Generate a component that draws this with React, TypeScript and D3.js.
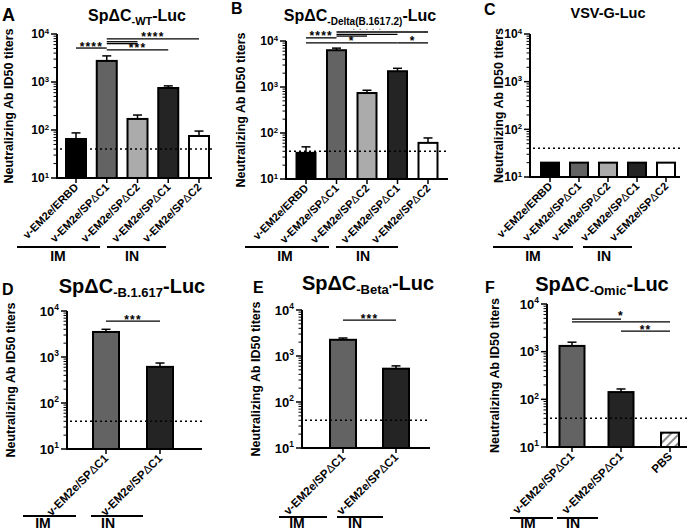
import React from "react";
import * as d3 from "d3";

const FONT = "'Liberation Sans', Arial, Helvetica, sans-serif";

// ---------- data ----------
const LOD = 40;
const yTickValues = [10, 100, 1000, 10000];
const catsFive = ["v-EM2e/ERBD", "v-EM2e/SPΔC1", "v-EM2e/SPΔC2", "v-EM2e/SPΔC1", "v-EM2e/SPΔC2"];
const catsTwo = ["v-EM2e/SPΔC1", "v-EM2e/SPΔC1"];
const catsThree = ["v-EM2e/SPΔC1", "v-EM2e/SPΔC1", "PBS"];
const routeGroups = ["IM", "IN"];

const wtMeans = [65, 2750, 170, 750, 75];
const wtUpper = [87, 3500, 205, 830, 95];
const deltaMeans = [37, 6300, 740, 2200, 61];
const deltaUpper = [50, 7000, 850, 2550, 78];
const vsvMeans = [20, 20, 20, 20, 20];
const vsvUpper = [null, null, null, null, null];
const b1617Means = [3500, 610];
const b1617Upper = [4000, 740];
const betaMeans = [2250, 530];
const betaUpper = [2460, 610];
const omicMeans = [1320, 142, 20];
const omicUpper = [1580, 165, null];

const fillsFive = ["#000000", "#636363", "#ababab", "#242424", "#ffffff"];
const fillsTwo = ["#636363", "#242424"];
const fillsThree = ["#636363", "#242424", "url(#hatch)"];

type Bracket = { a: number; b: number; v: number; label?: string; dy?: number; faint?: boolean };

const wtBrackets: Bracket[] = [
  { a: 1, b: 4, v: 7900, label: "****" },
  { a: 1, b: 2, v: 6900 },
  { a: 1, b: 2, v: 6300 },
  { a: 0, b: 1, v: 5100, label: "****" },
  { a: 1, b: 3, v: 4650, label: "***" },
];
const deltaBrackets: Bracket[] = [
  { a: 1, b: 4, v: 15700 },
  { a: 1, b: 3, v: 14000, faint: true },
  { a: 1, b: 2, v: 12800 },
  { a: 0, b: 1, v: 11700, label: "****" },
  { a: 0, b: 3, v: 9100, label: "*" },
  { a: 3, b: 4, v: 9100, label: "*" },
];
const b1617Brackets: Bracket[] = [{ a: 0, b: 1, v: 6000, label: "***" }];
const betaBrackets: Bracket[] = [{ a: 0, b: 1, v: 6000, label: "***" }];
const omicBrackets: Bracket[] = [
  { a: 0, b: 1, v: 4800 },
  { a: 0, b: 2, v: 4200, label: "*", dy: -4 },
  { a: 1, b: 2, v: 2700, label: "**" },
];

// ---------- layout ----------
interface Group { x0: number; x1: number; tx: number }
interface PanelCfg {
  letter: string; letterX: number; letterY: number; letterSize: number;
  pre: string; sub?: string; post?: string;
  titleX: number; titleY: number; titleSize: number; subSize: number;
  axisX: number; yTop: number; yBot: number; xEnd: number; c0: number; c1: number;
  bw: number[];
  cats: string[]; means: number[]; upper: (number | null)[]; fills: string[];
  brackets: Bracket[];
  yTitleX: number; tickSize: number; labelSize: number;
  groups: Group[]; groupY: number; groupTextY: number;
}

const panels: PanelCfg[] = [
  {
    letter: "A", letterX: 2, letterY: 21, letterSize: 18,
    pre: "SpΔC", sub: "-WT", post: "-Luc", titleX: 137, titleY: 21, titleSize: 16, subSize: 11,
    axisX: 57, yTop: 34, yBot: 178, xEnd: 212, c0: 76, c1: 199, bw: [20, 20, 20, 20, 20],
    cats: catsFive, means: wtMeans, upper: wtUpper, fills: fillsFive, brackets: wtBrackets,
    yTitleX: 13, tickSize: 12, labelSize: 11,
    groups: [{ x0: 17, x1: 100, tx: 58 }, { x0: 107, x1: 166, tx: 132 }], groupY: 247, groupTextY: 261,
  },
  {
    letter: "B", letterX: 231, letterY: 14, letterSize: 16,
    pre: "SpΔC", sub: "-Delta(B.1617.2)", post: "-Luc", titleX: 360, titleY: 21, titleSize: 16, subSize: 10,
    axisX: 286, yTop: 41, yBot: 179, xEnd: 448, c0: 306, c1: 428, bw: [19, 19, 19, 19, 19],
    cats: catsFive, means: deltaMeans, upper: deltaUpper, fills: fillsFive, brackets: deltaBrackets,
    yTitleX: 245, tickSize: 12, labelSize: 11,
    groups: [{ x0: 245, x1: 329, tx: 285 }, { x0: 336, x1: 398, tx: 363 }], groupY: 247, groupTextY: 261,
  },
  {
    letter: "C", letterX: 484, letterY: 15, letterSize: 16,
    pre: "VSV-G-Luc", titleX: 608, titleY: 18, titleSize: 14.5, subSize: 10,
    axisX: 530, yTop: 34, yBot: 177, xEnd: 680, c0: 550, c1: 666, bw: [18, 18, 18, 18, 18],
    cats: catsFive, means: vsvMeans, upper: vsvUpper, fills: fillsFive, brackets: [],
    yTitleX: 503, tickSize: 12, labelSize: 11,
    groups: [{ x0: 493, x1: 573, tx: 533 }, { x0: 583, x1: 632, tx: 604 }], groupY: 247, groupTextY: 261,
  },
  {
    letter: "D", letterX: 2, letterY: 295, letterSize: 16,
    pre: "SpΔC", sub: "-B.1.617", post: "-Luc", titleX: 132, titleY: 293, titleSize: 20, subSize: 13,
    axisX: 67, yTop: 311, yBot: 449, xEnd: 202, c0: 106, c1: 160, bw: [26, 26],
    cats: catsTwo, means: b1617Means, upper: b1617Upper, fills: fillsTwo, brackets: b1617Brackets,
    yTitleX: 15, tickSize: 13, labelSize: 11.5,
    groups: [{ x0: 23, x1: 76, tx: 43 }, { x0: 91, x1: 143, tx: 108 }], groupY: 516, groupTextY: 528,
  },
  {
    letter: "E", letterX: 253, letterY: 293, letterSize: 16,
    pre: "SpΔC", sub: "-Beta'", post: "-Luc", titleX: 368, titleY: 290, titleSize: 20, subSize: 13,
    axisX: 302, yTop: 310, yBot: 448, xEnd: 430, c0: 343, c1: 396, bw: [26, 26],
    cats: catsTwo, means: betaMeans, upper: betaUpper, fills: fillsTwo, brackets: betaBrackets,
    yTitleX: 260, tickSize: 13, labelSize: 11.5,
    groups: [{ x0: 279, x1: 327, tx: 297 }, { x0: 337, x1: 383, tx: 355 }], groupY: 517, groupTextY: 528,
  },
  {
    letter: "F", letterX: 485, letterY: 293, letterSize: 16,
    pre: "SpΔC", sub: "-Omic", post: "-Luc", titleX: 602, titleY: 291, titleSize: 20, subSize: 13,
    axisX: 547, yTop: 304, yBot: 447, xEnd: 687, c0: 572, c1: 670, bw: [25, 25, 18],
    cats: catsThree, means: omicMeans, upper: omicUpper, fills: fillsThree, brackets: omicBrackets,
    yTitleX: 499, tickSize: 13, labelSize: 11.5,
    groups: [{ x0: 510, x1: 553, tx: 528 }, { x0: 557, x1: 598, tx: 573 }], groupY: 518, groupTextY: 528,
  },
];

function CatLabel({ text }: { text: string }) {
  const parts = text.split("Δ");
  if (parts.length === 1) return <>{text}</>;
  return (
    <>
      {parts[0]}
      <tspan fontWeight="normal">Δ</tspan>
      {parts[1]}
    </>
  );
}

function Panel({ cfg }: { cfg: PanelCfg }) {
  const y = d3.scaleLog().domain([10, 10000]).range([cfg.yBot, cfg.yTop]);
  const x = d3.scalePoint<number>().domain(d3.range(cfg.cats.length)).range([cfg.c0, cfg.c1]);
  const minor: number[] = [];
  for (let d = 1; d <= 3; d++) for (let k = 2; k <= 9; k++) minor.push(k * Math.pow(10, d));
  const yMid = (cfg.yTop + cfg.yBot) / 2;

  return (
    <g>
      <text x={cfg.letterX} y={cfg.letterY} fontSize={cfg.letterSize} fontWeight="bold">{cfg.letter}</text>
      <text x={cfg.titleX} y={cfg.titleY} fontSize={cfg.titleSize} fontWeight="bold" textAnchor="middle">
        {cfg.pre}
        {cfg.sub && <tspan fontSize={cfg.subSize} dy={3.5}>{cfg.sub}</tspan>}
        {cfg.post && <tspan dy={cfg.sub ? -3.5 : 0}>{cfg.post}</tspan>}
      </text>
      <text
        transform={`translate(${cfg.yTitleX},${yMid}) rotate(-90)`}
        fontSize={12.5} fontWeight="bold" textAnchor="middle"
      >
        Neutralizing Ab ID50 titers
      </text>

      {/* bars */}
      {cfg.means.map((m, i) => {
        const cx = x(i)!;
        const w = cfg.bw[i];
        return (
          <rect key={"b" + i} x={cx - w / 2} y={y(m)} width={w} height={cfg.yBot - y(m)}
            fill={cfg.fills[i]} stroke="#000" strokeWidth={2} />
        );
      })}
      {cfg.upper.map((u, i) => {
        if (u == null) return null;
        const cx = x(i)!;
        return (
          <g key={"e" + i} stroke="#000" strokeWidth={1.5}>
            <line x1={cx} x2={cx} y1={y(cfg.means[i])} y2={y(u)} />
            <line x1={cx - 4.5} x2={cx + 4.5} y1={y(u)} y2={y(u)} />
          </g>
        );
      })}

      {/* LOD */}
      <line x1={cfg.axisX + 3} x2={cfg.xEnd} y1={y(LOD)} y2={y(LOD)} stroke="#000" strokeWidth={1.5} strokeDasharray="2 3" />

      {/* y axis */}
      <line x1={cfg.axisX} x2={cfg.axisX} y1={cfg.yBot} y2={cfg.yTop} stroke="#000" strokeWidth={2} />
      {minor.map((v) => (
        <line key={"m" + v} x1={cfg.axisX - 3.5} x2={cfg.axisX} y1={y(v)} y2={y(v)} stroke="#000" strokeWidth={1} />
      ))}
      {yTickValues.map((v) => (
        <g key={"t" + v}>
          <line x1={cfg.axisX - 6} x2={cfg.axisX} y1={y(v)} y2={y(v)} stroke="#000" strokeWidth={1.5} />
          <text x={cfg.axisX - 8} y={y(v) + cfg.tickSize * 0.36} fontSize={cfg.tickSize} fontWeight="bold" textAnchor="end">
            10<tspan fontSize={cfg.tickSize * 0.65} dy={-cfg.tickSize * 0.4}>{Math.round(Math.log10(v))}</tspan>
          </text>
        </g>
      ))}

      {/* x axis */}
      <line x1={cfg.axisX - 1} x2={cfg.xEnd} y1={cfg.yBot} y2={cfg.yBot} stroke="#000" strokeWidth={2} />
      {cfg.cats.map((c, i) => {
        const cx = x(i)!;
        return (
          <g key={"x" + i}>
            <line x1={cx} x2={cx} y1={cfg.yBot} y2={cfg.yBot + 5} stroke="#000" strokeWidth={1.5} />
            <text transform={`translate(${cx + 3},${cfg.yBot + 10}) rotate(-45)`} fontSize={cfg.labelSize}
              fontWeight="bold" textAnchor="end">
              <CatLabel text={c} />
            </text>
          </g>
        );
      })}

      {/* significance brackets */}
      {cfg.brackets.map((b, i) => {
        const x1 = x(b.a)!, x2 = x(b.b)!;
        const yy = y(b.v);
        return (
          <g key={"s" + i}>
            <line x1={x1} x2={x2} y1={yy} y2={yy} stroke="#000" strokeWidth={1.3} />
            {b.label && (
              <text x={(x1 + x2) / 2} y={yy + 2.5 + (b.dy || 0)} fontSize={12} fontWeight="bold"
                textAnchor="middle" letterSpacing={1.2}>
                {b.label}
              </text>
            )}
            {b.faint && (
              <line x1={(x1 + x2) / 2 - 14} x2={(x1 + x2) / 2 + 14} y1={yy - 5} y2={yy - 5}
                stroke="#9a9a9a" strokeWidth={1.2} strokeDasharray="1.5 5" />
            )}
          </g>
        );
      })}

      {/* route groups */}
      {cfg.groups.map((g, i) => (
        <g key={"g" + i}>
          <line x1={g.x0} x2={g.x1} y1={cfg.groupY} y2={cfg.groupY} stroke="#000" strokeWidth={2} />
          <text x={g.tx} y={cfg.groupTextY} fontSize={14} fontWeight="bold" textAnchor="middle">{routeGroups[i]}</text>
        </g>
      ))}
    </g>
  );
}

export default function App() {
  return (
    <svg width={696} height={532} viewBox="0 0 696 532"
      style={{ position: "absolute", left: 0, top: 0, background: "#fff", fontFamily: FONT }}>
      <defs>
        <pattern id="hatch" patternUnits="userSpaceOnUse" width={6} height={6} patternTransform="rotate(45)">
          <rect width={6} height={6} fill="#fff" />
          <line x1={0} y1={0} x2={0} y2={6} stroke="#8a8a8a" strokeWidth={4} />
        </pattern>
      </defs>
      <rect width={696} height={532} fill="#fff" />
      {panels.map((p) => <Panel key={p.letter} cfg={p} />)}
    </svg>
  );
}
